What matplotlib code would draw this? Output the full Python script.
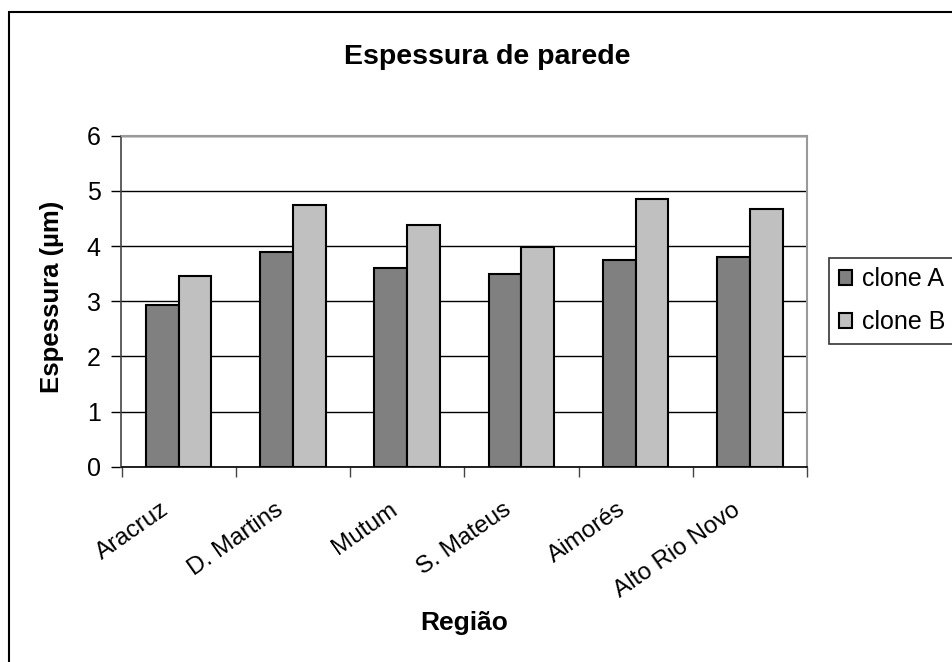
import numpy as np
import matplotlib.pyplot as plt
from matplotlib.patches import Rectangle

plt.rcParams['font.family'] = ['Liberation Sans', 'DejaVu Sans']

regioes = ['Aracruz', 'D. Martins', 'Mutum', 'S. Mateus', 'Aimorés', 'Alto Rio Novo']
clone_a = [2.94, 3.89, 3.60, 3.49, 3.74, 3.81]
clone_b = [3.46, 4.75, 4.39, 3.99, 4.86, 4.68]
series = ['clone A', 'clone B']
cores = ['#808080', '#c0c0c0']

fig = plt.figure(figsize=(9.52, 6.62), dpi=100)
ax = fig.add_axes([121.5 / 952, 1 - 466.7 / 662, 685.5 / 952, 331 / 662])

x = np.arange(len(regioes))
w = 1 / 3.5  # gap width 150%
ax.bar(x - w / 2, clone_a, w, color=cores[0], edgecolor='black', linewidth=1.5, label=series[0], zorder=3)
ax.bar(x + w / 2, clone_b, w, color=cores[1], edgecolor='black', linewidth=1.5, label=series[1], zorder=3)

ax.set_xlim(-0.5, len(regioes) - 0.5)
ax.set_ylim(0, 6)
ax.set_yticks(range(7))
ax.yaxis.grid(True, color='black', linewidth=1)
ax.set_axisbelow(True)

# rotated labels end a little left of the category centre
ax.set_xticks(x - 0.16)
ax.set_xticklabels(regioes, rotation=35, ha='right', rotation_mode='anchor', fontsize=17.5)
ax.set_xticks(np.arange(-0.5, len(regioes)), minor=True)
ax.tick_params(axis='x', which='major', length=0, pad=23)
ax.tick_params(axis='x', which='minor', length=7, width=1, direction='out', color='#444444')
ax.tick_params(axis='y', length=7, width=1, direction='out', labelsize=18, pad=8)

for s in ['top', 'right']:
    ax.spines[s].set_color('#999999')
    ax.spines[s].set_linewidth(1.5)
ax.spines['left'].set_color('#444444')
ax.spines['left'].set_linewidth(1.2)
ax.spines['bottom'].set_color('black')
ax.spines['bottom'].set_linewidth(1.2)

fig.text(487 / 952, 1 - 57 / 662, 'Espessura de parede', ha='center', va='center',
         fontsize=20.5, fontweight='bold')
fig.text(464 / 952, 1 - 623 / 662, 'Região', ha='center', va='center',
         fontsize=19, fontweight='bold')
fig.text(52 / 952, 1 - 297 / 662, 'Espessura (µm)', ha='center', va='center',
         rotation=90, fontsize=18.5, fontweight='bold')

leg = fig.legend(loc='upper left', bbox_to_anchor=(829 / 952, 1 - 258 / 662), borderaxespad=0,
                 fontsize=18, fancybox=False, frameon=True, edgecolor='black',
                 handlelength=0.55, handleheight=0.55, handletextpad=0.4,
                 labelspacing=0.75, borderpad=0.38)
leg.get_frame().set_linewidth(1.2)

# outer chart border
fig.patches.append(Rectangle((9 / 952, -0.05), 1.1, 1 - 12 / 662 + 0.05, transform=fig.transFigure,
                             fill=False, edgecolor='black', linewidth=1.5))

fig.savefig('out.png', dpi=100)
